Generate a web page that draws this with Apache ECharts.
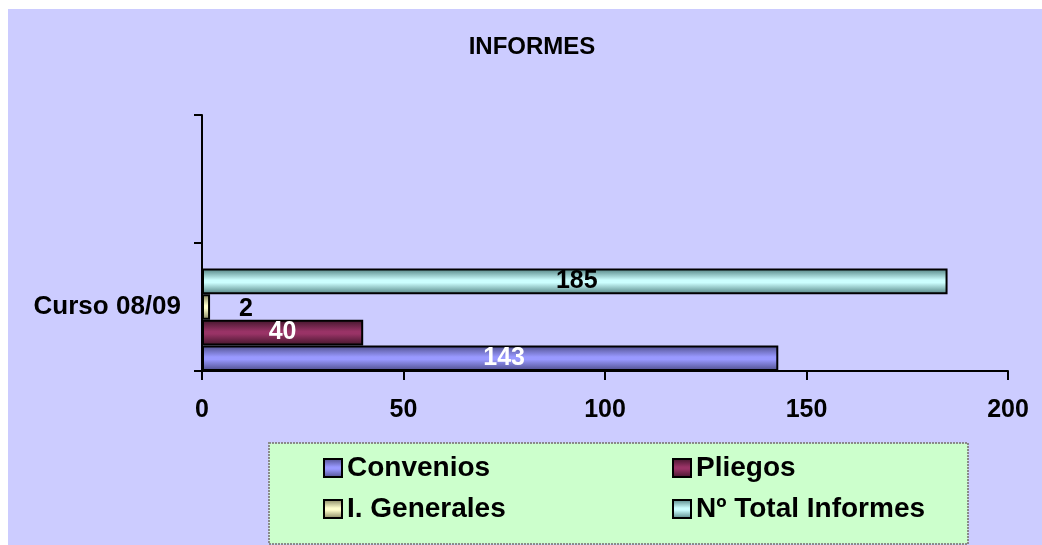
<!DOCTYPE html>
<html>
<head>
<meta charset="utf-8">
<script src="https://cdn.jsdelivr.net/npm/echarts@6/dist/echarts.min.js"></script>
<style>
html,body{margin:0;padding:0;background:#ffffff;}
#chart{width:1042px;height:545px;}
</style>
</head>
<body>
<div id="chart"></div>
<script>
var categories = ['Curso 08/09', ''];
var convenios = [143, null];
var pliegos = [40, null];
var generales = [2, null];
var totalInformes = [185, null];
var xTicks = [0, 50, 100, 150, 200];
var seriesNames = ['Convenios', 'Pliegos', 'I. Generales', 'Nº Total Informes'];

var FONT = '"Liberation Sans", Arial, sans-serif';

function grad(edge, mid) {
  return new echarts.graphic.LinearGradient(0, 0, 0, 1, [
    {offset: 0, color: edge},
    {offset: 0.45, color: mid},
    {offset: 0.55, color: mid},
    {offset: 1, color: edge}
  ]);
}

var chart = echarts.init(document.getElementById('chart'), null, {renderer: 'canvas'});

function barSeries(name, data, edge, mid, label) {
  return {
    name: name,
    type: 'bar',
    data: data,
    barGap: '0%',
    barCategoryGap: '0%',
    itemStyle: {color: grad(edge, mid), borderColor: '#000', borderWidth: 2},
    label: label,
    emphasis: {disabled: true},
    animation: false
  };
}

var legendText = {fontFamily: FONT, fontWeight: 'bold', fontSize: 28, color: '#000', lineHeight: 30};

var option = {
  backgroundColor: '#ffffff',
  animation: false,
  graphic: [
    {type: 'rect', z: -10, shape: {x: 8, y: 9, width: 1034, height: 536}, style: {fill: '#CCCCFF'}},
    {type: 'rect', z: -5, shape: {x: 269, y: 443, width: 699, height: 101},
     style: {fill: '#CCFFCC', stroke: '#8a8a8a', lineWidth: 2, lineDash: [2, 1]}}
  ],
  title: {
    text: 'INFORMES',
    left: 527, top: 30, textAlign: 'center',
    textStyle: {fontFamily: FONT, fontWeight: 'bold', fontSize: 24, color: '#000'}
  },
  legend: [
    {
      data: [seriesNames[0], seriesNames[2]],
      orient: 'vertical', left: 318, top: 448,
      icon: 'rect', itemWidth: 18, itemHeight: 18, itemGap: 11, itemTextGap: 8,
      selectedMode: false,
      textStyle: legendText
    },
    {
      data: [seriesNames[1], seriesNames[3]],
      orient: 'vertical', left: 667, top: 448,
      icon: 'rect', itemWidth: 18, itemHeight: 18, itemGap: 11, itemTextGap: 8,
      selectedMode: false,
      textStyle: legendText
    }
  ],
  grid: {left: 202, right: 34, top: 115, bottom: 174, containLabel: false},
  xAxis: {
    type: 'value', min: xTicks[0], max: xTicks[xTicks.length - 1], interval: 50,
    axisLine: {show: true, lineStyle: {color: '#000', width: 2}},
    axisTick: {show: true, length: 9, lineStyle: {color: '#000', width: 2}},
    splitLine: {show: false},
    axisLabel: {margin: 27, fontFamily: FONT, fontWeight: 'bold', fontSize: 25, color: '#000'}
  },
  yAxis: {
    type: 'category', data: categories,
    axisLine: {show: true, lineStyle: {color: '#000', width: 2}},
    axisTick: {show: true, length: 8, interval: 0, lineStyle: {color: '#000', width: 2}},
    axisLabel: {margin: 21, fontFamily: FONT, fontWeight: 'bold', fontSize: 26, color: '#000'}
  },
  series: [
    {name: '_pad', type: 'bar', data: [null, null], barGap: '0%', barCategoryGap: '0%', silent: true, animation: false},
    barSeries(seriesNames[3], totalInformes, '#4f7f7f', '#CCFFFF',
      {show: true, position: 'inside', offset: [2, 0], color: '#000', fontFamily: FONT, fontWeight: 'bold', fontSize: 25}),
    barSeries(seriesNames[2], generales, '#7f7f5a', '#FFFFCC',
      {show: true, position: 'right', distance: 29, offset: [0, 2], color: '#000', fontFamily: FONT, fontWeight: 'bold', fontSize: 25}),
    barSeries(seriesNames[1], pliegos, '#40152a', '#993366',
      {show: true, position: 'inside', color: '#fff', fontFamily: FONT, fontWeight: 'bold', fontSize: 25}),
    barSeries(seriesNames[0], convenios, '#4c4c88', '#9999FF',
      {show: true, position: 'inside', offset: [14, 0], color: '#fff', fontFamily: FONT, fontWeight: 'bold', fontSize: 25})
  ]
};
chart.setOption(option);
</script>
</body>
</html>
